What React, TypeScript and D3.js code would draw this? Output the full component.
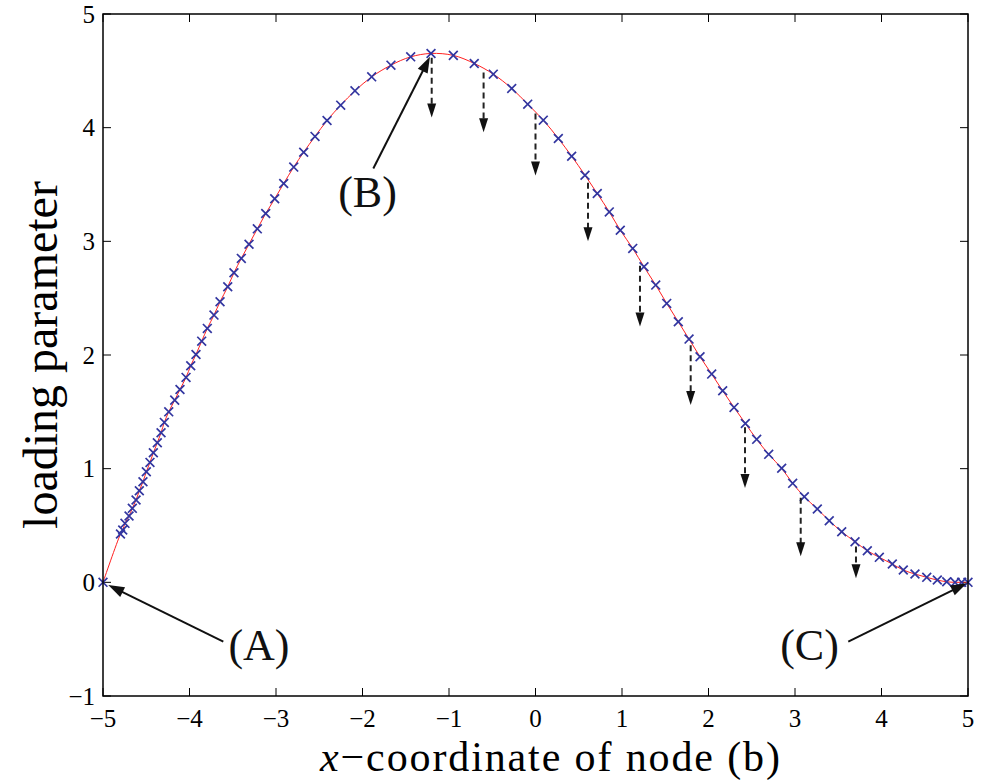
import React from "react";
import * as d3 from "d3";

const markerX = [-5, -4.798, -4.772, -4.746, -4.699, -4.661, -4.618, -4.58, -4.538, -4.499, -4.457, -4.418, -4.372, -4.329, -4.291, -4.24, -4.171, -4.11, -4.04, -3.986, -3.925, -3.859, -3.794, -3.717, -3.647, -3.558, -3.486, -3.401, -3.312, -3.216, -3.119, -3.015, -2.911, -2.795, -2.68, -2.549, -2.41, -2.252, -2.087, -1.894, -1.671, -1.443, -1.208, -0.95, -0.708, -0.488, -0.275, -0.09, 0.09, 0.264, 0.418, 0.572, 0.714, 0.853, 0.98, 1.124, 1.254, 1.39, 1.517, 1.651, 1.775, 1.902, 2.037, 2.164, 2.295, 2.426, 2.557, 2.696, 2.846, 2.973, 3.108, 3.258, 3.396, 3.54, 3.694, 3.836, 3.975, 4.125, 4.252, 4.387, 4.523, 4.645, 4.754, 4.85, 4.927, 5.0];
const markerY = [0, 0.425, 0.46, 0.519, 0.583, 0.651, 0.724, 0.806, 0.885, 0.973, 1.055, 1.14, 1.228, 1.316, 1.407, 1.5, 1.603, 1.697, 1.803, 1.905, 2.005, 2.122, 2.234, 2.351, 2.468, 2.6, 2.723, 2.85, 2.975, 3.11, 3.245, 3.374, 3.509, 3.653, 3.784, 3.923, 4.063, 4.198, 4.324, 4.447, 4.55, 4.623, 4.653, 4.636, 4.565, 4.471, 4.345, 4.207, 4.066, 3.905, 3.749, 3.582, 3.421, 3.259, 3.098, 2.938, 2.776, 2.615, 2.454, 2.292, 2.14, 1.984, 1.832, 1.685, 1.539, 1.398, 1.258, 1.126, 1.003, 0.871, 0.753, 0.645, 0.542, 0.445, 0.357, 0.278, 0.22, 0.161, 0.108, 0.073, 0.044, 0.02, 0.005, 0, 0, 0];

const dropX = [-1.2, -0.6, 0.0, 0.607, 1.208, 1.794, 2.422, 3.066, 3.705];
const dropFrom = [4.65, 4.52, 4.16, 3.55, 2.82, 2.12, 1.4, 0.78, 0.35];
const dropTo = [4.09, 3.96, 3.58, 3.0, 2.25, 1.56, 0.83, 0.23, 0.035];

const noteLabels = ["(A)", "(B)", "(C)"];
const noteTextX = [-3.197, -1.942, 3.168];
const noteTextY = [-0.683, 3.3, -0.683];
const noteFromX = [-3.609, -1.875, 3.616];
const noteFromY = [-0.522, 3.641, -0.522];
const noteToX = [-4.939, -1.22, 4.985];
const noteToY = [-0.024, 4.623, -0.009];

const xTicks = [-5, -4, -3, -2, -1, 0, 1, 2, 3, 4, 5];
const yTicks = [-1, 0, 1, 2, 3, 4, 5];

const W = 985;
const H = 781;
const left = 103, right = 968, top = 14, bottom = 696;

function fmt(v: number) {
  return v < 0 ? "\u2212" + Math.abs(v) : String(v);
}

function headPoly(x1: number, y1: number, x2: number, y2: number, len: number, half: number) {
  const dx = x2 - x1, dy = y2 - y1;
  const L = Math.sqrt(dx * dx + dy * dy) || 1;
  const ux = dx / L, uy = dy / L;
  const bx = x2 - ux * len, by = y2 - uy * len;
  const px = -uy, py = ux;
  return `${x2},${y2} ${bx + px * half},${by + py * half} ${bx - px * half},${by - py * half}`;
}

export default function App() {
  const x = d3.scaleLinear().domain([-5, 5]).range([left, right]);
  const y = d3.scaleLinear().domain([-1, 5]).range([bottom, top]);
  const pts = markerX.map((v, i) => [v, markerY[i]] as [number, number]);
  const line = d3.line<[number, number]>().x(d => x(d[0])).y(d => y(d[1])).curve(d3.curveCatmullRom.alpha(0.5));
  const font = "'Liberation Serif', 'Times New Roman', serif";
  const ms = 4.4;
  return (
    <svg width={W} height={H} style={{ position: "absolute", left: 0, top: 0, background: "#fff" }}>
      <rect x={0} y={0} width={W} height={H} fill="#fff" />
      {xTicks.map(t => (
        <g key={"xt" + t}>
          <line x1={x(t)} x2={x(t)} y1={bottom} y2={bottom - 8} stroke="#000" strokeWidth={1} />
          <line x1={x(t)} x2={x(t)} y1={top} y2={top + 8} stroke="#000" strokeWidth={1} />
          <text x={x(t)} y={727} textAnchor="middle" fontFamily={font} fontSize={25} fill="#000">{fmt(t)}</text>
        </g>
      ))}
      {yTicks.map(t => (
        <g key={"yt" + t}>
          <line x1={left} x2={left + 8} y1={y(t)} y2={y(t)} stroke="#000" strokeWidth={1} />
          <line x1={right} x2={right - 8} y1={y(t)} y2={y(t)} stroke="#000" strokeWidth={1} />
          <text x={95} y={y(t)} dy="0.35em" textAnchor="end" fontFamily={font} fontSize={25} fill="#000">{fmt(t)}</text>
        </g>
      ))}
      <path d={line(pts) || ""} fill="none" stroke="#ff2020" strokeWidth={1} />
      {pts.map((p, i) => {
        const cx = x(p[0]), cy = y(p[1]);
        return (
          <path key={"m" + i} d={`M${cx - ms},${cy - ms}L${cx + ms},${cy + ms}M${cx - ms},${cy + ms}L${cx + ms},${cy - ms}`} stroke="#3236a0" strokeWidth={1.7} fill="none" />
        );
      })}
      {dropX.map((v, i) => {
        const px = x(v), y1 = y(dropFrom[i]) + 4, y2 = y(dropTo[i]);
        return (
          <g key={"d" + i}>
            <line x1={px} x2={px} y1={y1} y2={y2 - 12} stroke="#222" strokeWidth={2} strokeDasharray="6,4" />
            <polygon points={headPoly(px, y1, px, y2, 14, 4.5)} fill="#111" />
          </g>
        );
      })}
      {noteLabels.map((lab, i) => {
        const x1 = x(noteFromX[i]), y1 = y(noteFromY[i]), x2 = x(noteToX[i]), y2 = y(noteToY[i]);
        const dx = x2 - x1, dy = y2 - y1, L = Math.sqrt(dx * dx + dy * dy);
        const ex = x2 - (dx / L) * 12, ey = y2 - (dy / L) * 12;
        return (
          <g key={"n" + i}>
            <line x1={x1} y1={y1} x2={ex} y2={ey} stroke="#111" strokeWidth={2} />
            <polygon points={headPoly(x1, y1, x2, y2, 16, 5.5)} fill="#111" />
            <text x={x(noteTextX[i])} y={y(noteTextY[i])} textAnchor="middle" fontFamily={font} fontSize={44} fill="#111">{lab}</text>
          </g>
        );
      })}
      <rect x={left} y={top} width={right - left} height={bottom - top} fill="none" stroke="#000" strokeWidth={1.5} />
      <text x={320} y={771} textLength={460} lengthAdjust="spacing" fontFamily={font} fontSize={42} fill="#000">
        <tspan fontStyle="italic">x</tspan>{"\u2212coordinate of node (b)"}
      </text>
      <text transform={`translate(57, ${(top + bottom) / 2}) rotate(-90)`} textAnchor="middle" fontFamily={font} fontSize={48} fill="#000">loading parameter</text>
    </svg>
  );
}
